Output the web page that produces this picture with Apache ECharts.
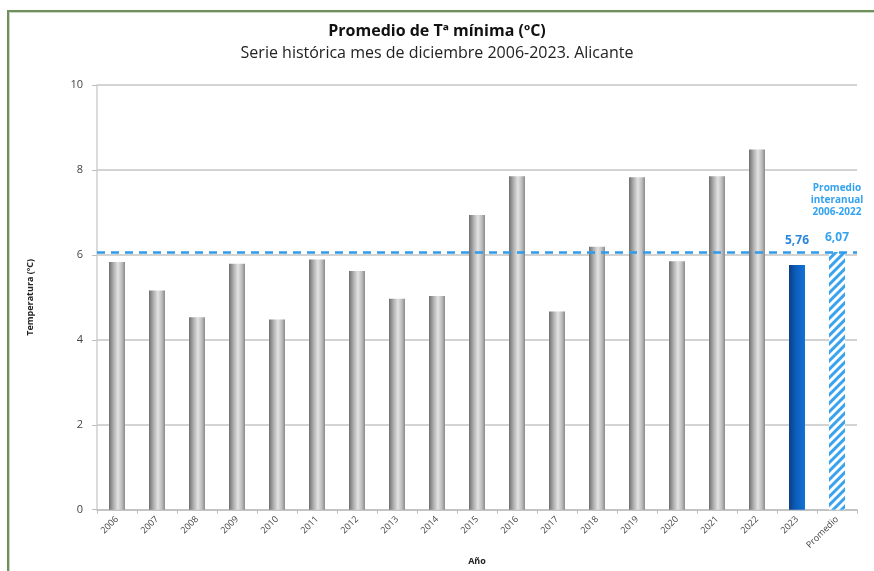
<!DOCTYPE html>
<html>
<head>
<meta charset="utf-8">
<script src="https://cdn.jsdelivr.net/npm/echarts@6/dist/echarts.min.js"></script>
<style>
html,body{margin:0;padding:0;background:#fff;}
#frame{position:absolute;left:7px;top:10px;width:880px;height:570px;border-left:2px solid #6f8f5c;border-top:2px solid #6f8f5c;box-shadow:inset 1px 1px 0 #c9d8c0;}
#chart{position:absolute;left:0;top:0;width:874px;height:571px;}
</style>
</head>
<body>
<div id="frame"></div>
<div id="chart"></div>
<script>
const categories = ['2006','2007','2008','2009','2010','2011','2012','2013','2014','2015','2016','2017','2018','2019','2020','2021','2022','2023','Promedio'];
const historicValues = [5.83,5.16,4.53,5.79,4.48,5.89,5.62,4.97,5.03,6.94,7.85,4.67,6.19,7.83,5.85,7.85,8.48];
const value2023 = 5.76;
const averageValue = 6.07;
const yTicks = [0,2,4,6,8,10];

const grayGrad = new echarts.graphic.LinearGradient(0,0,1,0,[
  {offset:0,color:'#6e6e6e'},{offset:0.25,color:'#a8a8a8'},{offset:0.55,color:'#e2e2e2'},{offset:0.8,color:'#bdbdbd'},{offset:1,color:'#8a8a8a'}]);
const blueGrad = new echarts.graphic.LinearGradient(0,0,1,0,[
  {offset:0,color:'#0b3f86'},{offset:0.4,color:'#0d5cb8'},{offset:1,color:'#1372d6'}]);

const data = historicValues.map(v => ({value:v, itemStyle:{color:grayGrad}}));
data.push({value:value2023, itemStyle:{color:blueGrad},
  label:{show:true, position:'top', distance:19, formatter:(p)=>String(p.value).replace('.',','),
    color:'#2a86dc', fontWeight:'bold', fontSize:12, fontFamily:'Open Sans'}});
data.push({value:averageValue, itemStyle:{color:'#ffffff',
    decal:{symbol:'rect', symbolSize:1, dashArrayX:[1,0], dashArrayY:[3,3], rotation:-Math.PI/4, color:'#3aa3ef'}},
  label:{show:true, position:'top', distance:6,
    formatter:(p)=>'{a|Promedio\ninteranual\n2006-2022}\n\n{b|'+String(p.value).replace('.',',')+'}',
    rich:{a:{color:'#33a2f0', fontWeight:'bold', fontSize:10, lineHeight:12, fontFamily:'Open Sans', align:'center'},
          b:{color:'#33a2f0', fontWeight:'bold', fontSize:12, lineHeight:16, fontFamily:'Open Sans', align:'center'}}}});

const chart = echarts.init(document.getElementById('chart'));
chart.setOption({
  animation:false,
  title:{text:'Promedio de Tª mínima (ºC)', subtext:'Serie histórica mes de diciembre 2006-2023. Alicante',
    left:'center', top:18, itemGap:6,
    textStyle:{fontFamily:'Open Sans', fontWeight:'bold', fontSize:16, color:'#111'},
    subtextStyle:{fontFamily:'Open Sans', fontSize:16, color:'#222'}},
  grid:{left:97, right:17, top:85, bottom:56},
  xAxis:{type:'category', data:categories, name:'Año', nameLocation:'middle', nameGap:44,
    nameTextStyle:{fontFamily:'Open Sans', fontWeight:'bold', fontSize:9, color:'#222'},
    axisLine:{lineStyle:{color:'#bfbfbf', width:1.5}}, axisTick:{show:true, lineStyle:{color:'#bfbfbf'}, length:4},
    axisLabel:{rotate:45, fontSize:9, color:'#444', fontFamily:'Open Sans', interval:0, margin:8}},
  yAxis:{type:'value', min:0, max:10, interval:2, name:'Temperatura (ºC)', nameLocation:'middle', nameGap:62,
    nameTextStyle:{fontFamily:'Open Sans', fontWeight:'bold', fontSize:9, color:'#222'},
    axisLine:{show:true, lineStyle:{color:'#cfcfcf', width:1.5}}, axisTick:{show:true, length:5, lineStyle:{color:'#bfbfbf'}},
    axisLabel:{fontSize:11, color:'#444', fontFamily:'Open Sans', margin:14, formatter:(v)=>yTicks.includes(v)?String(v):''},
    splitLine:{lineStyle:{color:'#c4c4c4', width:1.5}}},
  series:[{type:'bar', data:data, barWidth:16,
    markLine:{symbol:'none', silent:true, label:{show:false},
      lineStyle:{color:'#2f9bea', type:[8,6], width:2.5},
      data:[{yAxis:averageValue}]}}]
});
</script>
</body>
</html>
